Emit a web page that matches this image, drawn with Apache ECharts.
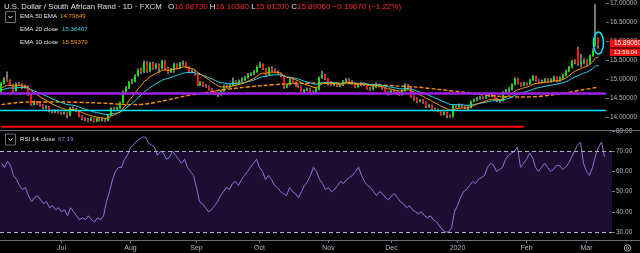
<!DOCTYPE html>
<html><head><meta charset="utf-8">
<script src="https://cdn.jsdelivr.net/npm/echarts@6/dist/echarts.min.js"></script>
<style>html,body{margin:0;padding:0;background:#000;}#c{width:640px;height:253px;}</style>
</head><body><div id="c"></div>
<script>
var dates = [
'2019-06-03','2019-06-04','2019-06-05','2019-06-06','2019-06-07','2019-06-10','2019-06-11','2019-06-12','2019-06-13','2019-06-14',
'2019-06-17','2019-06-18','2019-06-19','2019-06-20','2019-06-21','2019-06-24','2019-06-25','2019-06-26','2019-06-27','2019-06-28',
'2019-07-01','2019-07-02','2019-07-03','2019-07-04','2019-07-05','2019-07-08','2019-07-09','2019-07-10','2019-07-11','2019-07-12',
'2019-07-15','2019-07-16','2019-07-17','2019-07-18','2019-07-19','2019-07-22','2019-07-23','2019-07-24','2019-07-25','2019-07-26',
'2019-07-29','2019-07-30','2019-07-31','2019-08-01','2019-08-02','2019-08-05','2019-08-06','2019-08-07','2019-08-08','2019-08-09',
'2019-08-12','2019-08-13','2019-08-14','2019-08-15','2019-08-16','2019-08-19','2019-08-20','2019-08-21','2019-08-22','2019-08-23',
'2019-08-26','2019-08-27','2019-08-28','2019-08-29','2019-08-30','2019-09-02','2019-09-03','2019-09-04','2019-09-05','2019-09-06',
'2019-09-09','2019-09-10','2019-09-11','2019-09-12','2019-09-13','2019-09-16','2019-09-17','2019-09-18','2019-09-19','2019-09-20',
'2019-09-23','2019-09-24','2019-09-25','2019-09-26','2019-09-27','2019-09-30','2019-10-01','2019-10-02','2019-10-03','2019-10-04',
'2019-10-07','2019-10-08','2019-10-09','2019-10-10','2019-10-11','2019-10-14','2019-10-15','2019-10-16','2019-10-17','2019-10-18',
'2019-10-21','2019-10-22','2019-10-23','2019-10-24','2019-10-25','2019-10-28','2019-10-29','2019-10-30','2019-10-31','2019-11-01',
'2019-11-04','2019-11-05','2019-11-06','2019-11-07','2019-11-08','2019-11-11','2019-11-12','2019-11-13','2019-11-14','2019-11-15',
'2019-11-18','2019-11-19','2019-11-20','2019-11-21','2019-11-22','2019-11-25','2019-11-26','2019-11-27','2019-11-28','2019-11-29',
'2019-12-02','2019-12-03','2019-12-04','2019-12-05','2019-12-06','2019-12-09','2019-12-10','2019-12-11','2019-12-12','2019-12-13',
'2019-12-16','2019-12-17','2019-12-18','2019-12-19','2019-12-20','2019-12-23','2019-12-24','2019-12-25','2019-12-26','2019-12-27',
'2019-12-30','2019-12-31','2020-01-01','2020-01-02','2020-01-03','2020-01-06','2020-01-07','2020-01-08','2020-01-09','2020-01-10',
'2020-01-13','2020-01-14','2020-01-15','2020-01-16','2020-01-17','2020-01-20','2020-01-21','2020-01-22','2020-01-23','2020-01-24',
'2020-01-27','2020-01-28','2020-01-29','2020-01-30','2020-01-31','2020-02-03','2020-02-04','2020-02-05','2020-02-06','2020-02-07',
'2020-02-10','2020-02-11','2020-02-12','2020-02-13','2020-02-14','2020-02-17','2020-02-18','2020-02-19','2020-02-20','2020-02-21',
'2020-02-24','2020-02-25','2020-02-26','2020-02-27','2020-02-28','2020-03-02','2020-03-03','2020-03-04','2020-03-05','2020-03-06',
'2020-03-09','2020-03-10'];

var open = [
14.68,14.90,15.02,14.97,14.86,14.70,14.88,14.87,14.78,14.82,
14.60,14.34,14.40,14.38,14.32,14.25,14.28,14.17,14.14,14.18,
14.12,14.10,14.12,14.05,14.25,14.22,14.17,14.04,13.97,13.95,
13.93,13.98,13.90,13.97,13.93,13.95,13.92,14.06,14.24,14.22,
14.25,14.38,14.68,14.78,14.93,14.95,15.10,15.25,15.20,15.45,
15.22,15.42,15.30,15.38,15.30,15.48,15.30,15.20,15.27,15.40,
15.30,15.42,15.45,15.33,15.20,15.22,15.14,14.86,14.92,14.84,
14.82,14.74,14.70,14.63,14.60,14.70,14.82,14.80,14.84,14.95,
14.90,14.97,15.00,15.05,15.12,15.15,15.20,15.33,15.40,15.28,
15.12,15.30,15.25,15.20,15.15,15.10,14.80,14.86,15.00,14.92,
14.85,14.82,14.68,14.72,14.75,14.68,14.66,14.74,15.05,15.12,
15.02,14.92,14.85,14.88,14.83,14.85,14.95,15.00,14.95,14.90,
14.80,14.86,14.88,14.86,14.76,14.74,14.80,14.86,14.82,14.76,
14.66,14.62,14.70,14.66,14.64,14.60,14.70,14.85,14.78,14.55,
14.50,14.42,14.45,14.40,14.28,14.32,14.22,14.20,14.18,14.08,
14.13,14.05,14.02,14.30,14.28,14.33,14.30,14.25,14.26,14.42,
14.46,14.50,14.53,14.51,14.56,14.60,14.57,14.48,14.45,14.44,
14.66,14.72,14.74,14.86,15.02,14.90,14.85,14.90,14.88,14.98,
15.08,14.98,14.93,14.96,15.00,14.95,14.98,15.06,14.97,15.03,
15.10,15.22,15.32,15.48,15.80,15.40,15.45,15.50,15.42,15.62,
15.88,16.0873];

var high = [
14.93,15.06,15.21,15.00,14.89,14.92,14.93,14.90,14.86,14.84,
14.62,14.45,14.43,14.41,14.35,14.32,14.30,14.20,14.22,14.21,
14.15,14.15,14.14,14.28,14.29,14.26,14.19,14.06,14.01,13.99,
14.02,14.00,14.00,14.01,13.99,13.98,14.09,14.27,14.28,14.29,
14.42,14.71,14.83,14.97,15.02,15.14,15.29,15.31,15.50,15.48,
15.47,15.46,15.43,15.42,15.52,15.51,15.34,15.30,15.44,15.42,
15.46,15.50,15.47,15.35,15.27,15.25,15.16,14.96,14.95,14.88,
14.84,14.77,14.72,14.66,14.73,14.86,14.86,14.88,15.05,14.98,
15.00,15.06,15.09,15.17,15.19,15.25,15.37,15.47,15.42,15.30,
15.33,15.34,15.29,15.24,15.18,15.12,14.90,15.05,15.03,14.95,
14.89,14.84,14.76,14.79,14.78,14.71,14.78,15.08,15.23,15.15,
15.04,14.95,14.92,14.91,14.89,14.99,15.04,15.03,14.98,14.92,
14.90,14.93,14.92,14.88,14.80,14.84,14.92,14.89,14.85,14.78,
14.69,14.74,14.73,14.69,14.67,14.74,14.90,14.88,14.80,14.58,
14.53,14.49,14.48,14.42,14.35,14.34,14.26,14.23,14.20,14.16,
14.15,14.08,14.33,14.34,14.37,14.36,14.33,14.30,14.45,14.50,
14.54,14.57,14.56,14.59,14.64,14.66,14.59,14.52,14.48,14.69,
14.76,14.80,14.90,15.06,15.04,14.93,14.94,14.93,15.02,15.12,
15.10,15.01,15.00,15.04,15.03,15.03,15.10,15.08,15.08,15.15,
15.26,15.36,15.52,15.53,15.86,15.67,15.55,15.53,15.66,15.82,
16.99,16.1038];

var low = [
14.65,14.87,14.94,14.83,14.66,14.68,14.83,14.75,14.76,14.57,
14.31,14.32,14.33,14.29,14.22,14.22,14.14,14.11,14.12,14.10,
14.07,14.07,13.98,14.03,14.18,14.14,14.01,13.93,13.91,13.89,
13.90,13.87,13.88,13.90,13.90,13.89,13.90,14.04,14.18,14.19,
14.23,14.36,14.64,14.75,14.88,14.92,15.07,15.15,15.17,15.18,
15.19,15.26,15.27,15.19,15.27,15.26,15.16,15.17,15.18,15.27,
15.28,15.36,15.30,15.17,15.16,15.10,14.83,14.82,14.80,14.78,
14.71,14.66,14.59,14.54,14.58,14.68,14.76,14.77,14.82,14.86,
14.88,14.93,14.97,15.02,15.09,15.11,15.18,15.30,15.25,15.08,
15.10,15.21,15.17,15.12,15.06,14.76,14.77,14.84,14.89,14.81,
14.78,14.65,14.64,14.69,14.64,14.62,14.63,14.71,15.02,14.99,
14.84,14.82,14.82,14.80,14.80,14.83,14.92,14.92,14.86,14.77,
14.78,14.83,14.82,14.73,14.70,14.72,14.77,14.79,14.73,14.62,
14.58,14.60,14.62,14.60,14.57,14.58,14.68,14.75,14.52,14.44,
14.38,14.40,14.36,14.25,14.26,14.19,14.16,14.14,14.05,14.06,
13.98,13.99,14.00,14.25,14.26,14.27,14.22,14.19,14.24,14.40,
14.43,14.47,14.48,14.49,14.54,14.54,14.45,14.41,14.38,14.42,
14.63,14.62,14.71,14.84,14.87,14.81,14.82,14.84,14.86,14.96,
14.95,14.90,14.90,14.93,14.92,14.92,14.95,14.93,14.94,15.00,
15.08,15.19,15.29,15.40,15.36,15.32,15.40,15.36,15.40,15.60,
15.86,15.812];

var close = [
14.90,15.02,14.97,14.86,14.70,14.88,14.87,14.78,14.82,14.60,
14.34,14.40,14.38,14.32,14.25,14.28,14.17,14.14,14.18,14.12,
14.10,14.12,14.05,14.25,14.22,14.17,14.04,13.97,13.95,13.93,
13.98,13.90,13.97,13.93,13.95,13.92,14.06,14.24,14.22,14.25,
14.38,14.68,14.78,14.93,14.95,15.10,15.25,15.20,15.45,15.22,
15.42,15.30,15.38,15.30,15.48,15.30,15.20,15.27,15.40,15.30,
15.42,15.45,15.33,15.20,15.22,15.14,14.86,14.92,14.84,14.82,
14.74,14.70,14.63,14.60,14.70,14.82,14.80,14.84,14.95,14.90,
14.97,15.00,15.05,15.12,15.15,15.20,15.33,15.40,15.28,15.12,
15.30,15.25,15.20,15.15,15.10,14.80,14.86,15.00,14.92,14.85,
14.82,14.68,14.72,14.75,14.68,14.66,14.74,15.05,15.12,15.02,
14.92,14.85,14.88,14.83,14.85,14.95,15.00,14.95,14.90,14.80,
14.86,14.88,14.86,14.76,14.74,14.80,14.86,14.82,14.76,14.66,
14.62,14.70,14.66,14.64,14.60,14.70,14.85,14.78,14.55,14.50,
14.42,14.45,14.40,14.28,14.32,14.22,14.20,14.18,14.08,14.13,
14.05,14.02,14.30,14.28,14.33,14.30,14.25,14.26,14.42,14.46,
14.50,14.53,14.51,14.56,14.60,14.57,14.48,14.45,14.44,14.66,
14.72,14.74,14.86,15.02,14.90,14.85,14.90,14.88,14.98,15.08,
14.98,14.93,14.96,15.00,14.95,14.98,15.06,14.97,15.03,15.10,
15.22,15.32,15.48,15.45,15.40,15.45,15.50,15.42,15.62,15.76,
16.09,15.8906];

var ema10 = [
14.777,14.821,14.848,14.850,14.823,14.833,14.840,14.829,14.827,14.786,
14.705,14.650,14.601,14.550,14.495,14.456,14.404,14.356,14.324,14.287,
14.253,14.229,14.196,14.206,14.209,14.202,14.173,14.136,14.102,14.071,
14.054,14.026,14.016,14.000,13.991,13.978,13.993,14.038,14.071,14.104,
14.154,14.250,14.346,14.452,14.543,14.644,14.754,14.835,14.947,14.997,
15.074,15.115,15.163,15.188,15.241,15.252,15.243,15.248,15.276,15.280,
15.305,15.331,15.331,15.307,15.291,15.264,15.191,15.142,15.087,15.038,
14.984,14.932,14.877,14.827,14.804,14.807,14.806,14.812,14.837,14.848,
14.870,14.894,14.922,14.958,14.993,15.031,15.085,15.142,15.167,15.158,
15.184,15.196,15.197,15.188,15.172,15.104,15.060,15.049,15.026,14.994,
14.962,14.911,14.876,14.853,14.822,14.793,14.783,14.832,14.884,14.909,
14.911,14.900,14.896,14.884,14.878,14.891,14.911,14.918,14.915,14.894,
14.888,14.887,14.882,14.860,14.838,14.831,14.836,14.833,14.820,14.791,
14.760,14.749,14.733,14.716,14.695,14.696,14.724,14.734,14.701,14.664,
14.620,14.589,14.555,14.505,14.471,14.425,14.384,14.347,14.298,14.267,
14.228,14.190,14.210,14.223,14.242,14.253,14.252,14.253,14.283,14.315,
14.349,14.382,14.405,14.433,14.463,14.482,14.482,14.476,14.469,14.504,
14.543,14.579,14.630,14.701,14.737,14.758,14.784,14.801,14.834,14.879,
14.897,14.903,14.913,14.929,14.933,14.942,14.963,14.964,14.976,14.999,
15.039,15.090,15.161,15.214,15.248,15.285,15.324,15.341,15.392,15.459,
15.574,15.594];

var ema20 = [
14.719,14.748,14.769,14.778,14.771,14.781,14.789,14.788,14.791,14.773,
14.732,14.700,14.670,14.637,14.600,14.570,14.532,14.495,14.465,14.432,
14.400,14.373,14.342,14.333,14.322,14.308,14.282,14.252,14.223,14.195,
14.175,14.149,14.132,14.113,14.097,14.080,14.078,14.093,14.105,14.119,
14.144,14.195,14.251,14.316,14.376,14.445,14.522,14.587,14.669,14.721,
14.788,14.837,14.889,14.928,14.981,15.011,15.029,15.052,15.085,15.105,
15.135,15.165,15.181,15.183,15.187,15.183,15.152,15.130,15.102,15.075,
15.043,15.010,14.974,14.938,14.915,14.906,14.896,14.891,14.897,14.897,
14.904,14.913,14.926,14.944,14.964,14.986,15.019,15.055,15.076,15.080,
15.101,15.115,15.123,15.126,15.124,15.093,15.071,15.064,15.050,15.031,
15.011,14.979,14.954,14.935,14.911,14.887,14.873,14.890,14.912,14.922,
14.922,14.915,14.912,14.904,14.899,14.904,14.913,14.917,14.915,14.904,
14.900,14.898,14.894,14.881,14.868,14.862,14.862,14.858,14.849,14.831,
14.811,14.800,14.787,14.773,14.757,14.752,14.761,14.763,14.743,14.720,
14.691,14.668,14.642,14.608,14.581,14.547,14.514,14.482,14.444,14.414,
14.379,14.345,14.341,14.335,14.335,14.332,14.324,14.318,14.328,14.341,
14.356,14.373,14.386,14.403,14.422,14.436,14.440,14.441,14.441,14.462,
14.487,14.511,14.544,14.589,14.619,14.641,14.666,14.686,14.714,14.749,
14.771,14.786,14.803,14.822,14.834,14.848,14.868,14.878,14.892,14.912,
14.941,14.977,15.025,15.065,15.097,15.131,15.166,15.190,15.231,15.281,
15.358,15.364];

// EMA 50 line read at these bar positions
var ema50Bars = [0,5,10,20,30,36,42,46,50,54,58,62,67,73,80,88,95,100,113,124,133,140,147,155,162,169,175,180,185,190,195,201];
var ema50Vals = [14.34,14.39,14.41,14.41,14.39,14.37,14.34,14.34,14.37,14.43,14.50,14.57,14.63,14.71,14.78,14.84,14.88,14.90,14.90,14.87,14.83,14.80,14.74,14.67,14.60,14.55,14.54,14.55,14.59,14.65,14.72,14.798];

var rsi = [
64,62,65,63,58,56,53,51,52,48,
45,47,48,46,44,45,42,43,41,42,
40,41,38,42,40,38,36,37,36,38,
36,35,37,36,38,45,50,56,60,62,
62,66,68,72,73,75,76,77,77,74,
73,72,68,70,69,66,67,70,68,66,
64,66,62,60,58,52,45,44,42,40,
41,43,45,48,50,52,51,54,55,53,
56,58,60,62,64,66,62,60,56,58,
56,53,52,50,49,48,52,50,49,47,
50,53,55,58,62,60,56,54,51,52,
50,51,53,55,54,56,57,58,60,62,
58,55,53,52,50,48,50,49,47,46,
48,49,47,45,44,42,43,41,40,39,
40,38,37,38,36,35,33,31,30,30,
32,40,43,47,50,51,53,55,54,56,
57,58,62,64,63,60,61,62,66,68,
69,70,72,62,64,66,69,67,62,60,
62,64,62,60,61,63,63,61,62,64,
67,70,73,74.5,64,60,58,62,68,72,
74.5,67.19];

var hLinePurple = 14.64;
var hLineCyan = 14.18;
var redLineValue = 13.76;
var redLineEndBar = 176;

var priceTicks = [14.0,14.5,15.0,15.5,16.0,16.5,17.0];
var rsiTicks = [30,40,50,60,70,80];
var tickDates = ['2019-07-01','2019-08-01','2019-09-02','2019-10-01','2019-11-01','2019-12-02','2020-01-01','2020-02-03','2020-03-02'];
var tickLabels = ['Jul','Aug','Sep','Oct','Nov','Dec','2020','Feb','Mar'];

var cats = dates.concat(['pad1','pad2']);
var candleRows = dates.map(function(d,i){return [i, open[i], close[i], low[i], high[i]];});
var ema10Data = ema10.map(function(v,i){return [i,v];});
var ema20Data = ema20.map(function(v,i){return [i,v];});
var ema50Data = ema50Bars.map(function(b,i){return [b, ema50Vals[i]];});
var rsiData = rsi.map(function(v,i){return [i,v];});

var FONT = '"Liberation Sans", Arial, sans-serif';
var AX = '#b2b5be';
function isTick(idx, val){ return tickDates.indexOf(val) >= 0; }

function renderCandle(params, api){
  var i = api.value(0), o = api.value(1), c = api.value(2), l = api.value(3), h = api.value(4);
  var pO = api.coord([i,o]), pC = api.coord([i,c]), pL = api.coord([i,l]), pH = api.coord([i,h]);
  var bx = Math.round(pO[0] - 1);
  var top = Math.min(pO[1], pC[1]);
  var bh = Math.max(1, Math.abs(pO[1]-pC[1]));
  var up = c >= o;
  return {type:'group', children:[
    {type:'rect', shape:{x:bx+0.5, y:pH[1], width:1, height:Math.max(1,pL[1]-pH[1])}, style:{fill:'#e8e8e8'}},
    {type:'rect', shape:{x:bx, y:top, width:2, height:bh}, style:{fill: up ? '#00e600' : '#ff1010'}}
  ]};
}

var chart = echarts.init(document.getElementById('c'), null, {renderer:'canvas'});
var option = {
  backgroundColor:'#000000',
  animation:false,
  grid:[
    {left:0, width:612, top:0, height:128},
    {left:0, width:612, top:130, height:110}
  ],
  xAxis:[
    {type:'category', gridIndex:0, data:cats, boundaryGap:true, show:false},
    {type:'category', gridIndex:1, data:cats, boundaryGap:true,
      axisLine:{show:false},
      axisTick:{show:true, interval:isTick, alignWithLabel:true, length:3, inside:false, lineStyle:{color:'#787b86'}},
      axisLabel:{interval:isTick, color:AX, fontSize:7, fontFamily:FONT, margin:5,
        formatter:function(v){var k=tickDates.indexOf(v); return k>=0?tickLabels[k]:'';}},
      splitLine:{show:false}}
  ],
  yAxis:[
    {type:'value', gridIndex:0, position:'right', min:13.724, max:17.057, scale:true,
      splitLine:{show:false}, axisLine:{show:false},
      axisTick:{show:true, length:3, customValues:priceTicks, lineStyle:{color:'#787b86'}},
      axisLabel:{customValues:priceTicks, color:AX, fontSize:6.5, fontFamily:FONT, margin:4,
        formatter:function(v){return v.toFixed(5);}}},
    {type:'value', gridIndex:1, position:'right', min:26.04, max:80.5, scale:true,
      splitLine:{show:false}, axisLine:{show:false},
      axisTick:{show:true, length:3, customValues:rsiTicks, lineStyle:{color:'#787b86'}},
      axisLabel:{customValues:rsiTicks, color:AX, fontSize:6.5, fontFamily:FONT, margin:4,
        formatter:function(v){return v.toFixed(2);}}}
  ],
  series:[
    {type:'line', xAxisIndex:0, yAxisIndex:0, data:[], silent:true,
      markLine:{silent:true, symbol:'none', label:{show:false},
        data:[
          {yAxis:hLinePurple, lineStyle:{color:'#a020f0', width:2.5, type:'solid'}},
          {yAxis:hLineCyan, lineStyle:{color:'#00e5ff', width:1.3, type:'solid'}}
        ]}},
    {type:'line', name:'red', xAxisIndex:0, yAxisIndex:0, data:[[0,redLineValue],[redLineEndBar,redLineValue]],
      symbol:'none', lineStyle:{color:'#ff0000', width:2}, silent:true},
    {type:'line', name:'EMA 50', xAxisIndex:0, yAxisIndex:0, data:ema50Data, symbol:'none', smooth:0.3,
      lineStyle:{color:'#ff8f00', width:1.4, type:[4,2]}, silent:true},
    {type:'line', name:'EMA 20', xAxisIndex:0, yAxisIndex:0, data:ema20Data, symbol:'none',
      lineStyle:{color:'#26d4f0', width:1}, silent:true},
    {type:'line', name:'EMA 10', xAxisIndex:0, yAxisIndex:0, data:ema10Data, symbol:'none',
      lineStyle:{color:'#ff9800', width:1}, silent:true},
    {type:'custom', name:'USDZAR', xAxisIndex:0, yAxisIndex:0, data:candleRows, renderItem:renderCandle,
      encode:{x:0, y:[1,2,3,4]}, clip:true, silent:true},
    {type:'line', name:'RSI', xAxisIndex:1, yAxisIndex:1, data:rsiData, symbol:'none',
      lineStyle:{color:'#9272dc', width:1}, silent:true,
      markArea:{silent:true, itemStyle:{color:'#1c0e30'}, data:[[{yAxis:70},{yAxis:30}]]},
      markLine:{silent:true, symbol:'none', label:{show:false},
        lineStyle:{color:'#b9acd6', width:1, type:[4,3]},
        data:[{yAxis:70},{yAxis:30}]}}
  ]
};
chart.setOption(option);

var ell = chart.convertToPixel({xAxisIndex:0, yAxisIndex:0}, [201, 15.96]);
function txt(x, y, s, color, size, extra){
  var st = {text:s, fill:color, fontSize:size, fontFamily:FONT, verticalAlign:'middle', align:'left'};
  if (extra) for (var k in extra) st[k] = extra[k];
  return {type:'text', x:x, y:y, style:st, silent:true, z:100};
}
function chevronBox(x, y){
  return [
    {type:'rect', shape:{x:x+0.5, y:y+0.5, width:10, height:11}, style:{fill:'#000', stroke:'#6a6d78', lineWidth:1}, z:100, silent:true},
    {type:'polyline', shape:{points:[[x+3.5,y+5],[x+5.5,y+7],[x+7.5,y+5]]}, style:{stroke:'#e0e3eb', lineWidth:1, fill:null}, z:101, silent:true}
  ];
}
var red = '#ff2a2a';
var g = [
  {type:'line', shape:{x1:0, y1:130.5, x2:640, y2:130.5}, style:{stroke:'#6a6d78', lineWidth:1}, z:90, silent:true},
  {type:'line', shape:{x1:0, y1:240.5, x2:640, y2:240.5}, style:{stroke:'#6a6d78', lineWidth:1}, z:90, silent:true},
  txt(4, 6.5, 'U.S. Dollar / South African Rand · 1D · FXCM', '#e0e3eb', 7.8),
  {type:'text', x:168, y:6.5, z:100, silent:true, style:{
    text:'{w|O}{r|16.08730} {w|H}{r|16.10380} {w|L}{r|15.81200} {w|C}{r|15.89060} {r|−0.19670 (−1.22%)}',
    fontSize:8, fontFamily:FONT, verticalAlign:'middle', align:'left',
    rich:{w:{fill:'#e0e3eb', fontSize:8, fontFamily:FONT}, r:{fill:red, fontSize:8, fontFamily:FONT}}}},
  txt(20, 16.5, 'EMA 50 EMA', '#e0e3eb', 6.2),
  txt(60, 16.5, '14.79849', '#ff9800', 6.2),
  txt(20, 29.5, 'EMA 20 close', '#e0e3eb', 6.2),
  txt(62, 29.5, '15.36407', '#26d4f0', 6.2),
  txt(20, 42.5, 'EMA 10 close', '#e0e3eb', 6.2),
  txt(62, 42.5, '15.59379', '#ff9800', 6.2),
  txt(20, 139.5, 'RSI 14 close', '#e0e3eb', 6.2),
  txt(58, 139.5, '67.19', '#9b7be0', 6.2),
  {type:'rect', shape:{x:610, y:39.5, width:30, height:8}, style:{fill:'#f01010'}, z:100, silent:true},
  {type:'rect', shape:{x:610, y:48.5, width:30, height:7.5}, style:{fill:'#f01010'}, z:100, silent:true},
  txt(614, 43.7, '15.89060', '#ffffff', 6.5),
  txt(614, 52.3, '13:56:04', '#ffffff', 6),
  {type:'ellipse', shape:{cx:ell[0], cy:ell[1], rx:5, ry:11}, style:{fill:null, stroke:'#00e5ff', lineWidth:1.5}, z:100, silent:true},
  {type:'circle', shape:{cx:627.5, cy:248, r:3.2}, style:{fill:null, stroke:'#b2b5be', lineWidth:1}, z:100, silent:true},
  {type:'circle', shape:{cx:627.5, cy:248, r:1.2}, style:{fill:null, stroke:'#b2b5be', lineWidth:0.8}, z:100, silent:true}
].concat(chevronBox(5, 11)).concat(chevronBox(5, 133.5));
chart.setOption({graphic:g});
</script>
</body></html>
